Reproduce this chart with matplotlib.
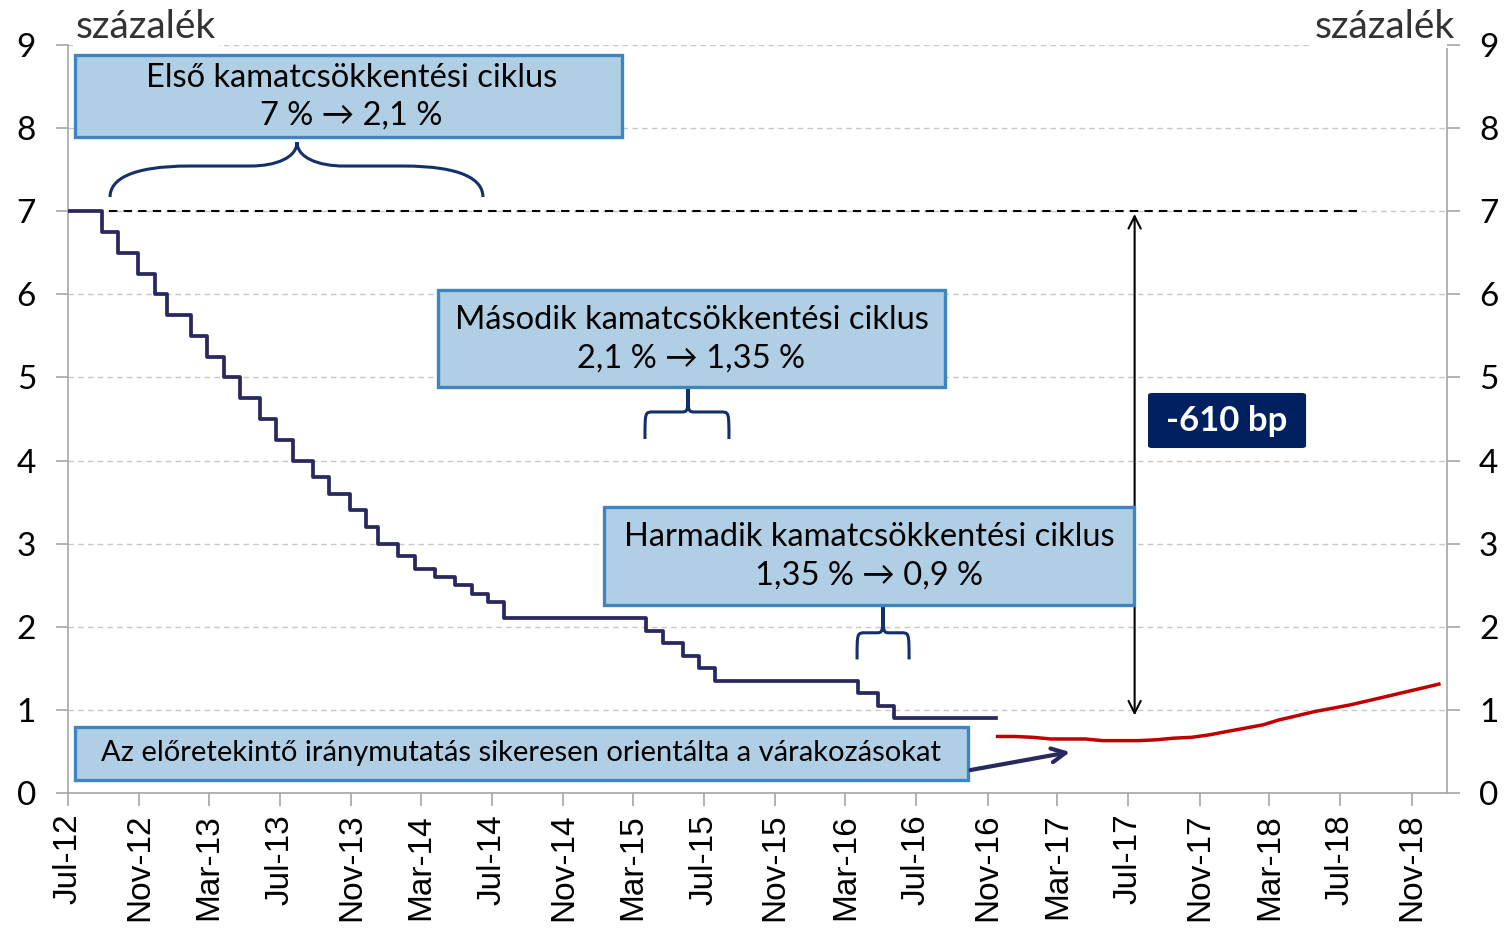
import matplotlib
matplotlib.use("Agg")
import matplotlib.pyplot as plt
import matplotlib.dates as mdates
from matplotlib.patches import Rectangle, FancyBboxPatch, PathPatch
from matplotlib.path import Path
import pandas as pd

# alapkamat döntések (dátum, új szint)
kamat_datumok = ["2012-07-01", "2012-08-28", "2012-09-25", "2012-10-30", "2012-11-27",
                 "2012-12-18", "2013-01-29", "2013-02-26", "2013-03-26", "2013-04-23",
                 "2013-05-28", "2013-06-25", "2013-07-23", "2013-08-27", "2013-09-24",
                 "2013-10-29", "2013-11-26", "2013-12-17", "2014-01-21", "2014-02-18",
                 "2014-03-25", "2014-04-29", "2014-05-27", "2014-06-24", "2014-07-22",
                 "2015-03-24", "2015-04-21", "2015-05-26", "2015-06-23", "2015-07-21",
                 "2016-03-22", "2016-04-26", "2016-05-24", "2016-11-16"]
kamat_szint = [7.00, 6.75, 6.50, 6.25, 6.00, 5.75, 5.50, 5.25, 5.00, 4.75,
               4.50, 4.25, 4.00, 3.80, 3.60, 3.40, 3.20, 3.00, 2.85, 2.70,
               2.60, 2.50, 2.40, 2.30, 2.10, 1.95, 1.80, 1.65, 1.50, 1.35,
               1.20, 1.05, 0.90, 0.90]

# piaci várakozások (havi)
varakozas_datumok = pd.date_range("2016-11-01", periods=26, freq="MS") + pd.Timedelta(days=17)
varakozas = [0.68, 0.68, 0.67, 0.65, 0.65, 0.65, 0.63, 0.63, 0.63, 0.64,
             0.66, 0.67, 0.70, 0.74, 0.78, 0.82, 0.88, 0.93, 0.98, 1.02,
             1.06, 1.11, 1.16, 1.21, 1.26, 1.31]

tick_datumok = pd.date_range("2012-07-01", "2018-11-01", freq="4MS")
y_tickek = list(range(0, 10))

kek = "#29285F"
piros = "#C00000"
doboz_kitoltes = "#B0CFE4"
doboz_szel = "#3F85C1"
kapocs_szin = "#13306B"
betu = "Lato"

fig = plt.figure(figsize=(15.05, 9.33), dpi=100)
ax = fig.add_axes([0.04518, 0.15005, 0.91628, 0.80172])

ax.step(pd.to_datetime(kamat_datumok), kamat_szint, where="post", color=kek, lw=2.7, zorder=3)
ax.plot(varakozas_datumok, varakozas, color=piros, lw=2.5, zorder=3)

ax.set_xlim(pd.Timestamp("2012-07-01"), pd.Timestamp("2019-01-01"))
ax.set_ylim(0, 9)
ax.set_xticks(tick_datumok)
ax.xaxis.set_major_formatter(mdates.DateFormatter("%b-%y"))
ax.set_yticks(y_tickek)
ax.grid(axis="y", color="#C8C8C8", ls=(0, (4, 3)), lw=1)
ax.set_axisbelow(True)
ax.spines["top"].set_visible(False)
for s in ["left", "right", "bottom"]:
    ax.spines[s].set_color("#A6A6A6")
    ax.spines[s].set_linewidth(1.2)
ax.tick_params(axis="x", direction="out", length=9, width=1.2, color="#A6A6A6",
               labelsize=24, pad=6, labelrotation=90)
ax.tick_params(axis="y", direction="out", length=9, width=1.2, color="#A6A6A6",
               labelsize=24, pad=14)
for lab in ax.get_xticklabels():
    lab.set_family("Liberation Sans")
for lab in ax.get_yticklabels():
    lab.set_family(betu)

ax2 = ax.twinx()
ax2.set_ylim(0, 9)
ax2.set_yticks(y_tickek)
ax2.tick_params(axis="y", direction="out", length=9, width=1.2, color="#A6A6A6",
                labelsize=24, pad=14)
for lab in ax2.get_yticklabels():
    lab.set_family(betu)
for s in ax2.spines.values():
    s.set_visible(False)

# szaggatott vonal 7 %-nál és a -610 bp nyíl
ax.plot([pd.Timestamp("2012-09-10"), pd.Timestamp("2018-08-07")], [7, 7],
        color="black", ls=(0, (4, 3)), lw=1.5, zorder=2)
ax.annotate("", xy=(pd.Timestamp("2017-07-12"), 0.9), xytext=(pd.Timestamp("2017-07-12"), 7.0),
            arrowprops=dict(arrowstyle="<->", color="black", lw=1.5, mutation_scale=22))

tr = ax.transAxes


def doboz(x0, x1, y0, y1):
    r = Rectangle((x0, y0), x1 - x0, y1 - y0, transform=tr, facecolor=doboz_kitoltes,
                  edgecolor=doboz_szel, lw=2.4, clip_on=False, zorder=5)
    ax.add_patch(r)


def kapocs(x0, x1, xt, ytip, ymid, yend, r, s, a=1.0, b=0.0, c=0.0, d=0.0):
    # a, b: a sarkok kerekítése, c, d: a csúcs felé futó ív alakja
    y_a = yend + a * (ymid - yend)
    y_d = ymid + d * (ytip - ymid)
    verts = [(x0, yend), (x0, y_a), (x0 + b * r, ymid), (x0 + r, ymid),
             (xt - s, ymid), (xt - c * s, ymid), (xt, y_d), (xt, ytip),
             (xt, y_d), (xt + c * s, ymid), (xt + s, ymid),
             (x1 - r, ymid), (x1 - b * r, ymid), (x1, y_a), (x1, yend)]
    codes = [Path.MOVETO, Path.CURVE4, Path.CURVE4, Path.CURVE4,
             Path.LINETO, Path.CURVE4, Path.CURVE4, Path.CURVE4,
             Path.CURVE4, Path.CURVE4, Path.CURVE4,
             Path.LINETO, Path.CURVE4, Path.CURVE4, Path.CURVE4]
    p = PathPatch(Path(verts, codes), transform=tr, facecolor="none",
                  edgecolor=kapocs_szin, lw=2.2, clip_on=False, zorder=4)
    ax.add_patch(p)


# első ciklus
doboz(0.0051, 0.4017, 0.8770, 0.9866)
ax.text(0.2056, 0.9559, "Első kamatcsökkentési ciklus", transform=tr, ha="center", va="center",
        fontsize=23.5, family=betu, zorder=6)
ax.text(0.2056, 0.9051, "7 % → 2,1 %", transform=tr, ha="center", va="center",
        fontsize=23.5, family=[betu, "DejaVu Sans"], zorder=6)
kapocs(0.0305, 0.3009, 0.1661, 0.8703, 0.8382, 0.7968, 0.058, 0.034,
       a=0.55, b=0.25, c=0.45, d=0.35)

# második ciklus
doboz(0.2683, 0.6360, 0.5428, 0.6725)
ax.text(0.4521, 0.6323, "Második kamatcsökkentési ciklus", transform=tr, ha="center", va="center",
        fontsize=23.5, family=betu, zorder=6)
ax.text(0.4521, 0.5802, "2,1 % → 1,35 %", transform=tr, ha="center", va="center",
        fontsize=23.5, family=[betu, "DejaVu Sans"], zorder=6)
kapocs(0.4184, 0.4793, 0.4496, 0.5428, 0.5094, 0.4733, 0.006, 0.005)

# harmadik ciklus
doboz(0.3887, 0.7730, 0.2513, 0.3824)
ax.text(0.5809, 0.3422, "Harmadik kamatcsökkentési ciklus", transform=tr, ha="center", va="center",
        fontsize=23.5, family=betu, zorder=6)
ax.text(0.5809, 0.2901, "1,35 % → 0,9 %", transform=tr, ha="center", va="center",
        fontsize=23.5, family=[betu, "DejaVu Sans"], zorder=6)
kapocs(0.5722, 0.6099, 0.5910, 0.2513, 0.2142, 0.1786, 0.006, 0.005)

# előretekintő iránymutatás
doboz(0.0051, 0.6527, 0.0174, 0.0882)
ax.text(0.3285, 0.0535, "Az előretekintő iránymutatás sikeresen orientálta a várakozásokat",
        transform=tr, ha="center", va="center", fontsize=21, family=betu, zorder=6)
ax.annotate("", xy=(0.7266, 0.0548), xytext=(0.6545, 0.0307), xycoords=tr, textcoords=tr,
            arrowprops=dict(arrowstyle="->", color=kek, lw=3, mutation_scale=25,
                            shrinkA=0, shrinkB=0), zorder=6)

# -610 bp
ax.add_patch(FancyBboxPatch((0.7832, 0.4612), 0.1146, 0.0736, transform=tr,
                            boxstyle="round,pad=0,rounding_size=0.003",
                            facecolor="#002060", edgecolor="none", zorder=5))
ax.text(0.8405, 0.4973, "-610 bp", transform=tr, ha="center", va="center", fontsize=25,
        fontweight="bold", color="white", family=betu, zorder=6)

# mértékegység
ax.text(0.0058, 1.024, "százalék", transform=tr, ha="left", va="center", fontsize=28,
        family=betu, color="#333333", zorder=6,
        bbox=dict(facecolor="white", edgecolor="none", pad=2))
ax.text(1.0058, 1.024, "százalék", transform=tr, ha="right", va="center", fontsize=28,
        family=betu, color="#333333", zorder=6,
        bbox=dict(facecolor="white", edgecolor="none", pad=2))

fig.savefig("out.png", dpi=100)
